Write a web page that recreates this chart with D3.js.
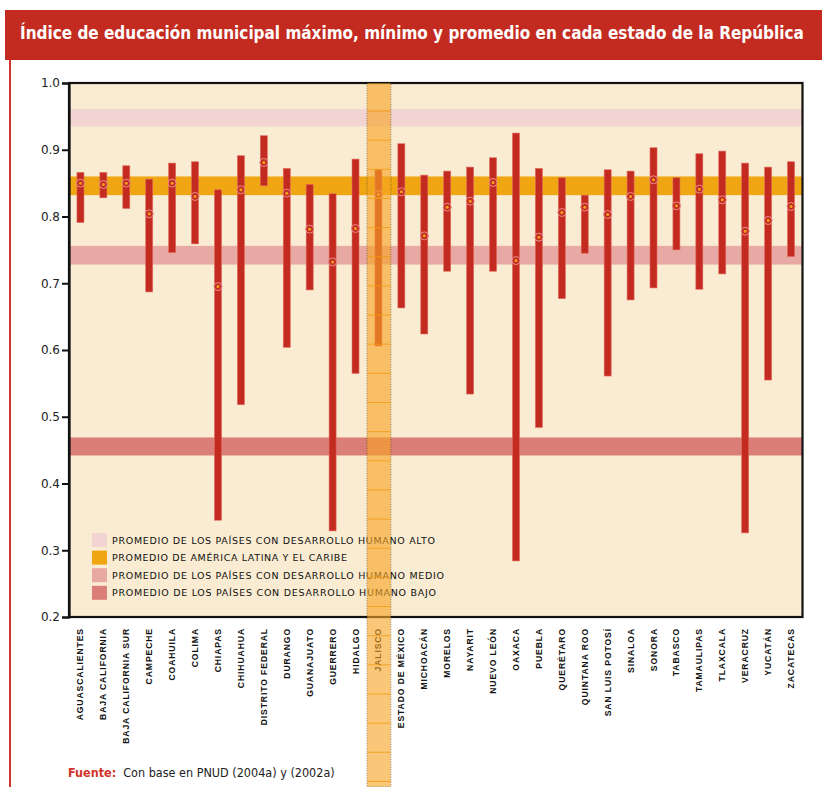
<!DOCTYPE html>
<html><head><meta charset="utf-8">
<script src="https://cdn.jsdelivr.net/npm/d3@7/dist/d3.min.js"></script>
<style>body{margin:0;background:#fff;}svg{display:block;}</style>
</head><body>
<svg id="c" width="822" height="787"></svg>
<script>
const states = ["AGUASCALIENTES","BAJA CALIFORNIA","BAJA CALIFORNIA SUR","CAMPECHE","COAHUILA","COLIMA","CHIAPAS","CHIHUAHUA","DISTRITO FEDERAL","DURANGO","GUANAJUATO","GUERRERO","HIDALGO","JALISCO","ESTADO DE MÉXICO","MICHOACÁN","MORELOS","NAYARIT","NUEVO LEÓN","OAXACA","PUEBLA","QUERÉTARO","QUINTANA ROO","SAN LUIS POTOSÍ","SINALOA","SONORA","TABASCO","TAMAULIPAS","TLAXCALA","VERACRUZ","YUCATÁN","ZACATECAS"];
const maxVals = [0.866,0.866,0.876,0.856,0.880,0.882,0.840,0.891,0.921,0.872,0.848,0.834,0.886,0.870,0.909,0.862,0.868,0.874,0.888,0.925,0.872,0.858,0.832,0.870,0.868,0.903,0.858,0.894,0.898,0.880,0.874,0.882];
const minVals = [0.791,0.828,0.812,0.687,0.746,0.759,0.345,0.518,0.846,0.604,0.690,0.329,0.565,0.606,0.663,0.624,0.718,0.534,0.718,0.284,0.484,0.677,0.745,0.561,0.675,0.693,0.750,0.691,0.714,0.326,0.555,0.740];
const avgVals = [0.850,0.848,0.850,0.804,0.850,0.830,0.695,0.840,0.881,0.835,0.781,0.732,0.782,0.833,0.837,0.771,0.814,0.823,0.851,0.734,0.769,0.806,0.814,0.803,0.830,0.855,0.816,0.841,0.825,0.778,0.794,0.815];
const highlight = "JALISCO";
const bandNames = ["PROMEDIO DE LOS PAÍSES CON DESARROLLO HUMANO ALTO","PROMEDIO DE AMÉRICA LATINA Y EL CARIBE","PROMEDIO DE LOS PAÍSES CON DESARROLLO HUMANO MEDIO","PROMEDIO DE LOS PAÍSES CON DESARROLLO HUMANO BAJO"];
const bandLow  = [0.935,0.832,0.728,0.442];
const bandHigh = [0.961,0.860,0.756,0.469];
const bandColors = ["#F2D4D2","#EFA612","#E8A8A4","#DC7E78"];
const legendWidths = [323,235,332,324];
const yTicks = [0.2,0.3,0.4,0.5,0.6,0.7,0.8,0.9,1.0];
const title = "Índice de educación municipal máximo, mínimo y promedio en cada estado de la República";

const svg = d3.select("#c");
const L=69, R=802.5, T=83, B=617;
const x = d3.scaleBand().domain(states).range([L,R]);
const y = d3.scaleLinear().domain([0.2,1.0]).range([B,T]);

// header
svg.append("rect").attr("x",5).attr("y",10).attr("width",817).attr("height",50).attr("fill","#C42B20");
svg.append("rect").attr("x",9).attr("y",60).attr("width",2).attr("height",727).attr("fill","#D0342A");
const tt = svg.append("text").attr("x",20).attr("y",40).attr("fill","#fff")
  .attr("font-family","'DejaVu Sans Condensed','Liberation Sans Narrow','DejaVu Sans',sans-serif").attr("font-size",19)
  .attr("font-weight","bold").text(title);
// fit the title width to the header by font size (no stretching)
const natural = tt.node().getComputedTextLength();
const fs = Math.min(19, 19 * 784 / natural);
tt.attr("font-size", fs).attr("y", 33 + fs*0.36);

// plot background
svg.append("rect").attr("x",L).attr("y",T).attr("width",R-L).attr("height",B-T).attr("fill","#FAECD2");
// bands
svg.selectAll("rect.band").data(bandNames).join("rect").attr("class","band")
  .attr("x",L).attr("width",R-L)
  .attr("y",(d,i)=>y(bandHigh[i])).attr("height",(d,i)=>y(bandLow[i])-y(bandHigh[i]))
  .attr("fill",(d,i)=>bandColors[i]);

// bars
const bw = 7;
svg.selectAll("rect.bar").data(states).join("rect").attr("class","bar")
  .attr("x",d=>x(d)+x.bandwidth()/2-bw/2).attr("width",bw)
  .attr("y",(d,i)=>y(maxVals[i])).attr("height",(d,i)=>y(minVals[i])-y(maxVals[i]))
  .attr("fill","#C42B20").attr("stroke","#E06A5E").attr("stroke-width",0.6);
// avg markers
svg.selectAll("circle.avgo").data(states).join("circle").attr("class","avgo")
  .attr("cx",d=>x(d)+x.bandwidth()/2).attr("cy",(d,i)=>y(avgVals[i])).attr("r",4)
  .attr("fill","#C42B20").attr("stroke","#E9908A").attr("stroke-width",1);
svg.selectAll("circle.avgi").data(states).join("circle").attr("class","avgi")
  .attr("cx",d=>x(d)+x.bandwidth()/2).attr("cy",(d,i)=>y(avgVals[i])).attr("r",1.5)
  .attr("fill","#F2A020");

// legend
const lg = svg.append("g");
bandNames.forEach((n,i)=>{
  const yy = 533 + i*17.6;
  lg.append("rect").attr("x",92).attr("y",yy).attr("width",15).attr("height",14).attr("fill",bandColors[i]);
  lg.append("text").attr("x",112).attr("y",yy+10.5).attr("font-family","'DejaVu Sans',sans-serif")
    .attr("font-size",9.5).attr("textLength",legendWidths[i]).attr("lengthAdjust","spacing")
    .attr("fill","#111").text(n);
});

// axes frame
svg.append("rect").attr("x",L).attr("y",T).attr("width",R-L).attr("height",B-T)
  .attr("fill","none").attr("stroke","#111").attr("stroke-width",2.2);
const yAxis = d3.axisLeft(y).tickValues(yTicks).tickFormat(d3.format(".1f")).tickSize(7).tickPadding(2);
const ga = svg.append("g").attr("transform",`translate(${L},0)`).call(yAxis);
ga.select(".domain").attr("stroke","#111").attr("stroke-width",2.2);
ga.selectAll(".tick line").attr("stroke","#111").attr("stroke-width",2);
ga.selectAll(".tick text").attr("font-family","'DejaVu Sans',sans-serif").attr("font-size",12).attr("fill","#222");

// x labels
const xAxis = d3.axisBottom(x).tickSize(0).tickPadding(0);
const gx = svg.append("g").attr("transform",`translate(0,${B})`).call(xAxis);
gx.select(".domain").remove();
gx.selectAll(".tick text").attr("transform","rotate(-90)").attr("x",-11).attr("y",0).attr("dy","0.35em")
  .attr("text-anchor","end").attr("font-family","'Liberation Sans',Arial,sans-serif")
  .attr("font-weight","bold").attr("font-size",8.6).attr("letter-spacing",0.9).attr("fill","#111");

// highlight column
const hx = x(highlight), hw = x.bandwidth()+1;
const hg = svg.append("g");
hg.append("rect").attr("x",hx).attr("y",T).attr("width",hw).attr("height",787-T)
  .attr("fill","#F7A526").attr("opacity",0.62)
  .attr("stroke","#222").attr("stroke-width",0.8).attr("stroke-dasharray","1,1.5");
d3.range(111,787,29.15).forEach(v=>{
  hg.append("line").attr("x1",hx+0.5).attr("x2",hx+hw-0.5).attr("y1",v).attr("y2",v)
    .attr("stroke","#F39A10").attr("stroke-width",0.8);
});

// source
const src = svg.append("text").attr("x",68).attr("y",777).attr("font-family","'DejaVu Sans Condensed','DejaVu Sans',sans-serif").attr("font-size",12.5);
src.append("tspan").attr("fill","#D0342A").attr("font-weight","bold").text("Fuente:");
src.append("tspan").attr("fill","#222").attr("dx",7).text("Con base en PNUD (2004a) y (2002a)");
</script>
</body></html>
